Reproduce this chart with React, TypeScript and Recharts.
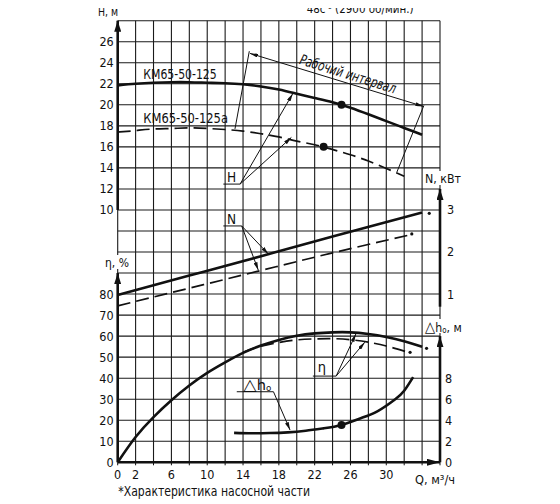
import React from 'react';
import {
  ComposedChart,
  Line,
  XAxis,
  YAxis,
  CartesianGrid,
  ReferenceLine,
  ReferenceDot,
} from 'recharts';

// ---- axis ticks ----
const qTicks = [0, 2, 4, 6, 8, 10, 12, 14, 16, 18, 20, 22, 24, 26, 28, 30, 32, 34, 36];
const qLabels = [0, 2, 6, 10, 14, 18, 22, 26, 30];
const gridRows = [0, 1, 2, 3, 4, 5, 6, 7, 8, 9, 10, 11, 12, 13, 14, 15, 16, 17, 18, 19, 20, 21];
const hTicks = [10, 12, 14, 16, 18, 20, 22, 24, 26];
const etaTicks = [0, 10, 20, 30, 40, 50, 60, 70, 80];
const nTicks = [1, 2, 3];
const dhTicks = [0, 2, 4, 6, 8];

// ---- H (head), m ----
const qH = [0, 2, 4, 6, 8, 10, 12, 14, 16, 18, 20, 22, 24, 26, 28, 30, 32, 34];
const hMain = [21.85, 22.0, 22.1, 22.15, 22.15, 22.1, 22.05, 21.95, 21.75, 21.45, 21.05, 20.65, 20.25, 19.72, 19.1, 18.45, 17.8, 17.15];
const qHa = [0, 2, 4, 6, 8, 10, 12, 14, 16, 18, 20, 22, 24, 26, 28, 30, 32];
const hAlt = [17.4, 17.55, 17.7, 17.75, 17.8, 17.75, 17.65, 17.5, 17.25, 16.95, 16.55, 16.2, 15.75, 15.25, 14.65, 13.95, 13.2];

// ---- N (power), kW ----
const qN = [0, 8, 16, 24, 34];
const nMain = [0.98, 1.44, 1.9, 2.37, 2.94];
const qNa = [0, 8, 16, 24, 32.5];
const nAlt = [0.72, 1.14, 1.56, 1.98, 2.4];

// ---- η (efficiency), % ----
const qEta = [0, 2, 4, 6, 8, 10, 12, 14, 16, 18, 20, 22, 24, 26, 28, 30, 32, 34];
const etaMain = [0, 12, 21.5, 29.5, 36.5, 42.5, 47.5, 52, 55.5, 58.2, 60.2, 61.3, 61.8, 61.8, 61.0, 59.6, 57.6, 55.0];
const qEtaA = [14, 16, 18, 20, 22, 24, 26, 28, 30, 32.2];
const etaAlt = [52.3, 55.2, 57.0, 58.2, 58.7, 58.8, 58.3, 57.1, 55.3, 52.6];

// ---- Δh (NPSH), m ----
const qDh = [13, 15, 17, 19, 21, 23, 25, 27, 29, 31, 32, 33];
const dhVals = [2.8, 2.76, 2.78, 2.85, 3.0, 3.23, 3.55, 4.15, 4.85, 6.0, 6.8, 8.1];

const zip = (qs: number[], vs: number[]) => qs.map((q, i) => ({ q, v: vs[i] }));

const FONT = "'Liberation Sans Narrow', 'DejaVu Sans Condensed', 'Roboto Condensed', 'Liberation Sans', sans-serif";
const INK = '#111';
const AXW = 0.01;

export default function App() {
  const tickStyle = { fontFamily: FONT, fontSize: 12.5, fill: INK } as any;
  const thick = { stroke: INK, strokeWidth: 2.6, ifOverflow: 'visible' as const, xAxisId: 'q' };
  const thin = { stroke: INK, strokeWidth: 1, ifOverflow: 'visible' as const, xAxisId: 'q' };
  const textStyle: React.CSSProperties = { fontFamily: FONT, fill: INK };
  const fit = { lengthAdjust: 'spacingAndGlyphs' as const };

  return (
    <div style={{ position: 'relative', width: 552, height: 496 }}>
      <ComposedChart width={552} height={496} margin={{ top: 12.7, right: 120 - 2 * AXW, left: 109.7 - 3 * AXW, bottom: 11.7 }}>
        <CartesianGrid xAxisId="q" stroke="#1a1a1a" strokeWidth={1.1} />
        <XAxis
          xAxisId="q"
          dataKey="q"
          type="number"
          domain={[0, 36]}
          ticks={qTicks}
          interval={0}
          allowDataOverflow
          tickFormatter={(v: number) => (qLabels.includes(v) ? String(v) : '')}
          tick={tickStyle}
          tickSize={3}
          tickMargin={5}
          axisLine={false}
          tickLine={{ stroke: INK }}
          height={30}
        />
        <YAxis type="number" domain={[0, 21]} ticks={gridRows} interval={0} width={AXW} tickFormatter={() => ''} axisLine={false} tickLine={false} allowDataOverflow />
        <YAxis yAxisId="H" type="number" domain={[-14, 28]} ticks={hTicks} interval={0} width={AXW} tick={tickStyle} tickSize={0} tickMargin={4} axisLine={false} tickLine={false} allowDataOverflow />
        <YAxis yAxisId="eta" type="number" domain={[0, 210]} ticks={etaTicks} interval={0} width={AXW} tick={tickStyle} tickSize={0} tickMargin={4} axisLine={false} tickLine={false} allowDataOverflow />
        <YAxis yAxisId="N" orientation="right" type="number" domain={[-3, 7.5]} ticks={nTicks} interval={0} width={AXW} tick={tickStyle} tickSize={0} tickMargin={7} axisLine={false} tickLine={false} allowDataOverflow />
        <YAxis yAxisId="dh" orientation="right" type="number" domain={[0, 42]} ticks={dhTicks} interval={0} width={AXW} tick={tickStyle} tickSize={0} tickMargin={5} axisLine={false} tickLine={false} allowDataOverflow />

        {/* thick axes with arrows */}
        <ReferenceLine {...thick} yAxisId="H" segment={[{ x: 0, y: 10 }, { x: 0, y: 28 }]} markerEnd="url(#axArrow)" />
        <ReferenceLine {...thick} yAxisId="eta" segment={[{ x: 0, y: 0 }, { x: 0, y: 90 }]} markerEnd="url(#axArrow)" />
        <ReferenceLine {...thick} yAxisId="N" segment={[{ x: 36, y: 0.7 }, { x: 36, y: 3.5 }]} markerEnd="url(#axArrow)" />
        <ReferenceLine {...thick} yAxisId="dh" segment={[{ x: 36, y: 0 }, { x: 36, y: 12 }]} markerEnd="url(#axArrow)" />
        <ReferenceLine {...thick} yAxisId="eta" segment={[{ x: 0, y: 0 }, { x: 36, y: 0 }]} markerEnd="url(#axArrowX)" />

        {/* working interval */}
        <ReferenceLine {...thin} yAxisId="H" segment={[{ x: 14.78, y: 24.89 }, { x: 34.15, y: 19.85 }]} markerStart="url(#ldArrow)" markerEnd="url(#ldArrow)" />
        <ReferenceLine {...thin} yAxisId="H" segment={[{ x: 14.7, y: 25.1 }, { x: 13.1, y: 17.71 }]} />
        <ReferenceLine {...thin} yAxisId="H" segment={[{ x: 34.2, y: 19.94 }, { x: 31.17, y: 13.57 }]} />

        {/* H leader */}
        <ReferenceLine {...thin} yAxisId="H" segment={[{ x: 11.8, y: 12.46 }, { x: 13.67, y: 12.46 }]} />
        <ReferenceLine {...thin} yAxisId="H" segment={[{ x: 13.67, y: 12.46 }, { x: 19.55, y: 21.06 }]} markerEnd="url(#ldArrow)" />
        <ReferenceLine {...thin} yAxisId="H" segment={[{ x: 13.67, y: 12.46 }, { x: 19.4, y: 16.9 }]} markerEnd="url(#ldArrow)" />

        {/* N leader */}
        <ReferenceLine {...thin} yAxisId="N" segment={[{ x: 11.8, y: 2.62 }, { x: 13.85, y: 2.62 }]} />
        <ReferenceLine {...thin} yAxisId="N" segment={[{ x: 13.85, y: 2.62 }, { x: 16.83, y: 1.95 }]} markerEnd="url(#ldArrow)" />
        <ReferenceLine {...thin} yAxisId="N" segment={[{ x: 13.85, y: 2.62 }, { x: 15.7, y: 1.57 }]} markerEnd="url(#ldArrow)" />

        {/* η leader */}
        <ReferenceLine {...thin} yAxisId="eta" segment={[{ x: 21.8, y: 41 }, { x: 24.4, y: 41 }]} />
        <ReferenceLine {...thin} yAxisId="eta" segment={[{ x: 24.4, y: 41 }, { x: 26.6, y: 61 }]} markerEnd="url(#ldArrow)" />
        <ReferenceLine {...thin} yAxisId="eta" segment={[{ x: 24.4, y: 41 }, { x: 27.6, y: 57.1 }]} markerEnd="url(#ldArrow)" />

        {/* Δh leader */}
        <ReferenceLine {...thin} yAxisId="dh" segment={[{ x: 13.3, y: 6.71 }, { x: 17.4, y: 6.71 }]} />
        <ReferenceLine {...thin} yAxisId="dh" segment={[{ x: 17.4, y: 6.71 }, { x: 19.25, y: 3.07 }]} markerEnd="url(#ldArrow)" />

        {/* series */}
        <Line xAxisId="q" yAxisId="H" data={zip(qH, hMain)} dataKey="v" type="natural" stroke={INK} strokeWidth={2.6} dot={false} activeDot={false} isAnimationActive={false} />
        <Line xAxisId="q" yAxisId="H" data={zip(qHa, hAlt)} dataKey="v" type="natural" stroke={INK} strokeWidth={1.7} strokeDasharray="13 6" dot={false} activeDot={false} isAnimationActive={false} />
        <Line xAxisId="q" yAxisId="N" data={zip(qN, nMain)} dataKey="v" type="natural" stroke={INK} strokeWidth={2.6} dot={false} activeDot={false} isAnimationActive={false} />
        <Line xAxisId="q" yAxisId="N" data={zip(qNa, nAlt)} dataKey="v" type="natural" stroke={INK} strokeWidth={1.7} strokeDasharray="13 6" dot={false} activeDot={false} isAnimationActive={false} />
        <Line xAxisId="q" yAxisId="eta" data={zip(qEta, etaMain)} dataKey="v" type="natural" stroke={INK} strokeWidth={2.6} dot={false} activeDot={false} isAnimationActive={false} />
        <Line xAxisId="q" yAxisId="eta" data={zip(qEtaA, etaAlt)} dataKey="v" type="natural" stroke={INK} strokeWidth={1.7} strokeDasharray="13 6" dot={false} activeDot={false} isAnimationActive={false} />
        <Line xAxisId="q" yAxisId="dh" data={zip(qDh, dhVals)} dataKey="v" type="natural" stroke={INK} strokeWidth={2.6} dot={false} activeDot={false} isAnimationActive={false} />

        {/* duty points */}
        <ReferenceDot xAxisId="q" yAxisId="H" x={25} y={20.0} r={4} fill={INK} stroke="none" />
        <ReferenceDot xAxisId="q" yAxisId="H" x={23.0} y={16.0} r={4} fill={INK} stroke="none" />
        <ReferenceDot xAxisId="q" yAxisId="dh" x={25} y={3.55} r={4} fill={INK} stroke="none" />
        {/* footnote marks */}
        <ReferenceDot xAxisId="q" yAxisId="N" x={34.8} y={2.92} r={1.6} fill={INK} stroke="none" />
        <ReferenceDot xAxisId="q" yAxisId="N" x={32.85} y={2.43} r={1.6} fill={INK} stroke="none" />
        <ReferenceDot xAxisId="q" yAxisId="eta" x={34.5} y={54.2} r={1.6} fill={INK} stroke="none" />
        <ReferenceDot xAxisId="q" yAxisId="eta" x={32.66} y={52.3} r={1.6} fill={INK} stroke="none" />
      </ComposedChart>

      <div
        style={{
          position: 'absolute',
          left: 298.7,
          top: -5,
          fontFamily: FONT,
          fontSize: 11.5,
          lineHeight: '13px',
          color: INK,
          whiteSpace: 'nowrap',
          pointerEvents: 'none',
        }}
      >
        48с<sup style={{ fontSize: 7, verticalAlign: 4, lineHeight: 0 }}>-1</sup> (2900 об/мин.)
      </div>

      <svg
        width={560}
        height={504}
        style={{ position: 'absolute', left: -8, top: -8, overflow: 'visible', pointerEvents: 'none' }}
      >
        <defs>
          <marker id="axArrow" markerUnits="userSpaceOnUse" markerWidth="11" markerHeight="7" viewBox="0 0 11 7" refX="11" refY="3.5" orient="auto">
            <path d="M0,0 L11,3.5 L0,7 Z" fill={INK} />
          </marker>
          <marker id="axArrowX" markerUnits="userSpaceOnUse" markerWidth="13" markerHeight="7" viewBox="0 0 13 7" refX="13" refY="3.5" orient="auto">
            <path d="M0,0 L13,3.5 L0,7 Z" fill={INK} />
          </marker>
          <marker id="ldArrow" markerUnits="userSpaceOnUse" markerWidth="8" markerHeight="4" viewBox="0 0 8 4" refX="8" refY="2" orient="auto-start-reverse">
            <path d="M0,0 L8,2 L0,4 Z" fill={INK} />
          </marker>
        </defs>

        {/* background patches behind axis titles */}
        <rect x={423} y={171} width={40} height={14} fill="#fff" />
        <rect x={423} y={319} width={42} height={14} fill="#fff" />
        <rect x={103} y={255} width={28} height={14} fill="#fff" />

        <text x={98} y={15.5} fontSize={12.5} textLength={20} {...fit} style={textStyle}>H, м</text>
        <text x={425} y={183} fontSize={12.5} textLength={36} {...fit} style={textStyle}>N, кВт</text>
        <text x={425} y={331.5} fontSize={12.5} textLength={36.7} {...fit} style={textStyle}>
          <tspan fontSize={15}>△</tspan>h<tspan fontSize={8} dy={1}>о</tspan>
          <tspan dy={-1}>, м</tspan>
        </text>
        <text x={105} y={266.5} fontSize={12.5} textLength={24} {...fit} style={textStyle}>η, %</text>
        <text x={415} y={483.5} fontSize={13} textLength={40} {...fit} style={textStyle}>Q, м³/ч</text>
        <text x={118.3} y={496} fontSize={13.5} textLength={191.7} {...fit} style={textStyle}>*Характеристика насосной части</text>

        <text x={143.3} y={79} fontSize={14} textLength={73.4} {...fit} style={textStyle}>КМ65-50-125</text>
        <text x={143.3} y={123.3} fontSize={14} textLength={84.7} {...fit} style={textStyle}>КМ65-50-125а</text>
        <text
          x={348}
          y={74}
          fontSize={14.5}
          fontStyle="italic"
          textAnchor="middle"
          dominantBaseline="central"
          textLength={100}
          {...fit}
          transform="rotate(17.4 348 74)"
          style={textStyle}
        >
          Рабочий интервал
        </text>
        <text x={231.5} y={181.5} fontSize={13.5} textAnchor="middle" style={textStyle}>H</text>
        <text x={231.5} y={223.5} fontSize={13.5} textAnchor="middle" style={textStyle}>N</text>
        <text x={322} y={372} fontSize={14.5} textAnchor="middle" style={textStyle}>η</text>
        <text x={243.3} y={390} fontSize={13.5} textLength={28} {...fit} style={textStyle}>
          <tspan fontSize={16}>△</tspan>h<tspan fontSize={8} dy={1}>о</tspan>
        </text>
      </svg>
    </div>
  );
}
